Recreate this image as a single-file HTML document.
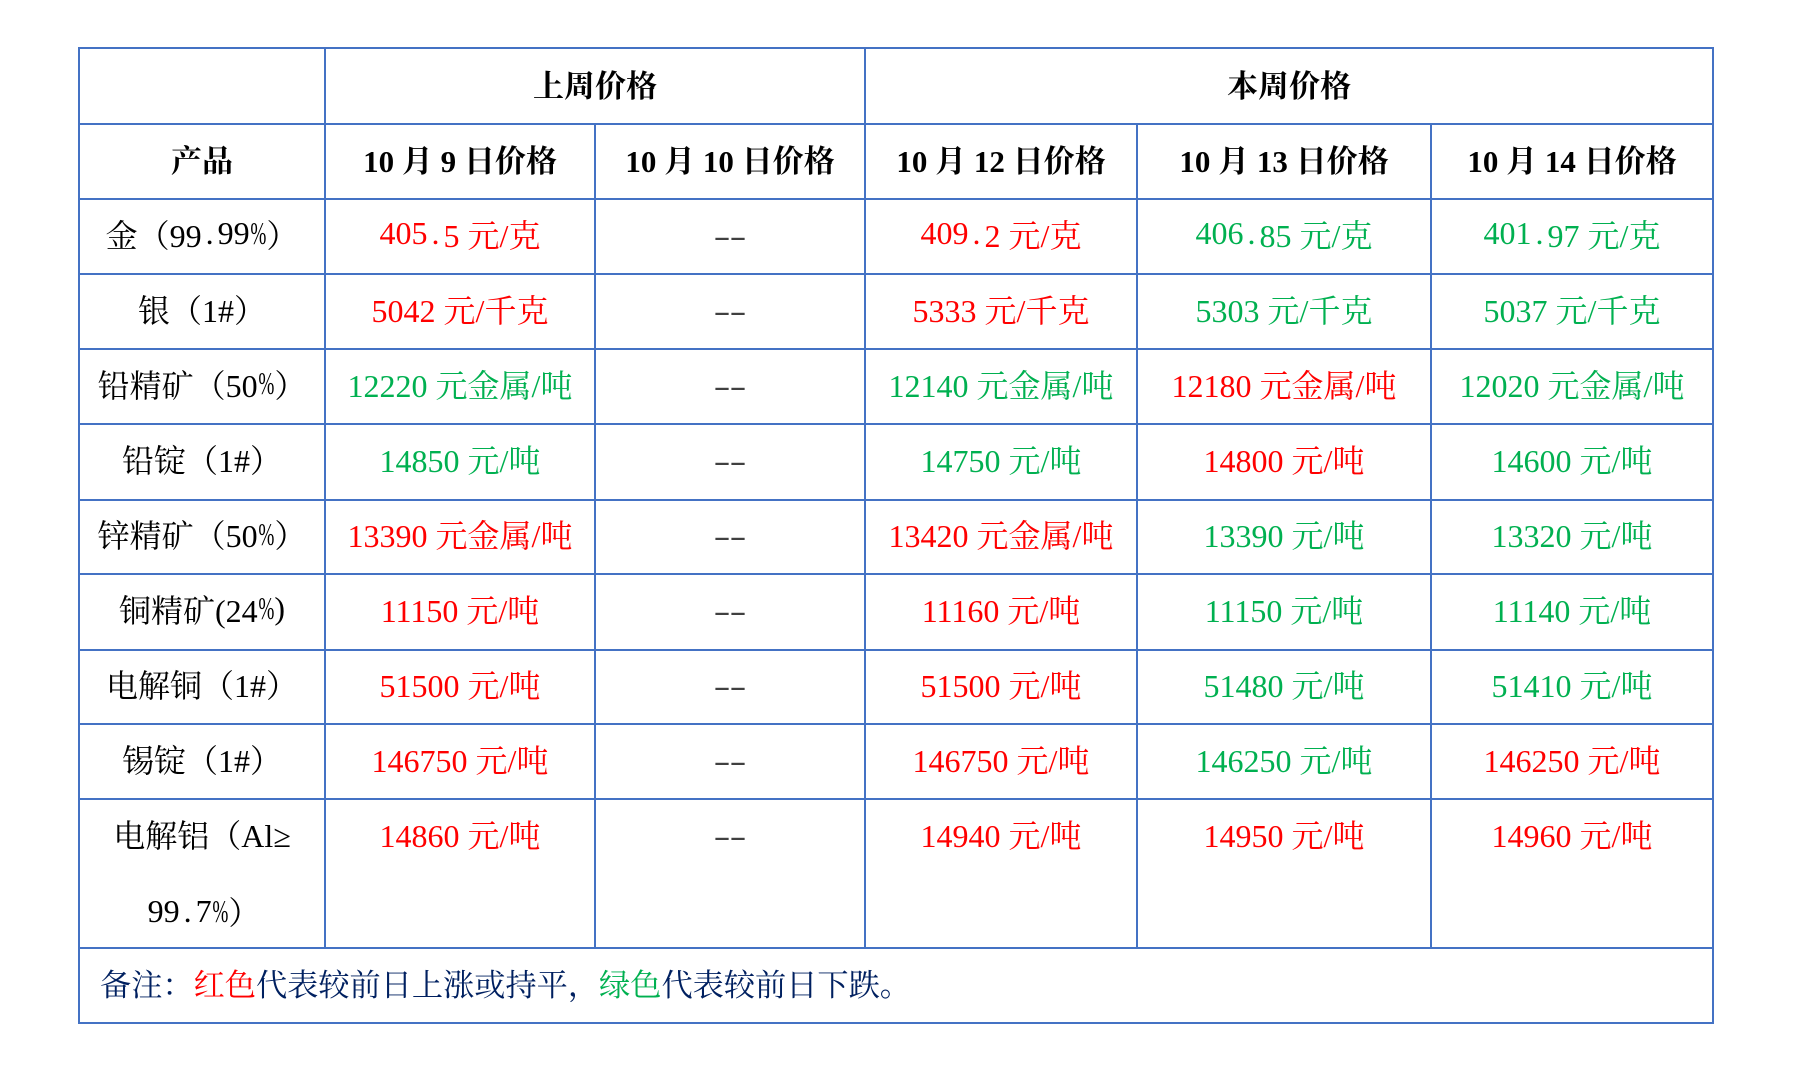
<!DOCTYPE html>
<html>
<head>
<meta charset="utf-8">
<style>
html,body{margin:0;padding:0;background:#fff;}
#wrap{position:relative;width:1802px;height:1078px;overflow:hidden;background:#fff;}
.h{position:absolute;height:2px;background:#4472C4;}
.v{position:absolute;width:2px;background:#4472C4;}
.c{position:absolute;box-sizing:border-box;padding-bottom:6px;display:flex;align-items:center;justify-content:center;white-space:nowrap;
  font-family:"Liberation Serif","Noto Serif CJK SC",serif;font-size:32px;color:#000;}
.b{font-weight:700;font-size:31px;}
.hb{font-weight:700;font-size:31px;}
.r{color:#FF0000;}
.g{color:#00B050;}
.d{color:#404040;font-size:30px;padding-bottom:0;}
.dd{display:inline-block;transform:scaleX(1.7);margin:0 3px;}
.p{display:inline-block;transform:scaleX(0.6);margin:0 -5px;}
.dt{display:inline-block;width:16px;text-align:center;}
.note{position:absolute;left:100px;top:966px;height:40px;line-height:40px;white-space:nowrap;
  font-family:"Liberation Serif","Noto Serif CJK SC",serif;font-size:31.2px;color:#002060;}
</style>
</head>
<body>
<div id="wrap">
<!-- horizontal lines -->
<div class="h" style="left:78px;width:1636px;top:47px"></div>
<div class="h" style="left:78px;width:1636px;top:123px"></div>
<div class="h" style="left:78px;width:1636px;top:198px"></div>
<div class="h" style="left:78px;width:1636px;top:273px"></div>
<div class="h" style="left:78px;width:1636px;top:348px"></div>
<div class="h" style="left:78px;width:1636px;top:423px"></div>
<div class="h" style="left:78px;width:1636px;top:499px"></div>
<div class="h" style="left:78px;width:1636px;top:573px"></div>
<div class="h" style="left:78px;width:1636px;top:649px"></div>
<div class="h" style="left:78px;width:1636px;top:723px"></div>
<div class="h" style="left:78px;width:1636px;top:798px"></div>
<div class="h" style="left:78px;width:1636px;top:947px"></div>
<div class="h" style="left:78px;width:1636px;top:1022px"></div>
<!-- vertical lines -->
<div class="v" style="left:78px;top:47px;height:977px"></div>
<div class="v" style="left:1712px;top:47px;height:977px"></div>
<div class="v" style="left:324px;top:47px;height:902px"></div>
<div class="v" style="left:594px;top:123px;height:826px"></div>
<div class="v" style="left:864px;top:47px;height:902px"></div>
<div class="v" style="left:1136px;top:123px;height:826px"></div>
<div class="v" style="left:1430px;top:123px;height:826px"></div>

<!-- header row 1 -->
<div class="c hb" style="left:325px;width:540px;top:49px;height:74px">上周价格</div>
<div class="c hb" style="left:865px;width:848px;top:49px;height:74px">本周价格</div>

<!-- header row 2 -->
<div class="c b" style="left:79px;width:246px;top:124px;height:75px">产品</div>
<div class="c b" style="left:325px;width:270px;top:124px;height:75px">10 月 9 日价格</div>
<div class="c b" style="left:595px;width:270px;top:124px;height:75px">10 月 10 日价格</div>
<div class="c b" style="left:865px;width:272px;top:124px;height:75px">10 月 12 日价格</div>
<div class="c b" style="left:1137px;width:294px;top:124px;height:75px">10 月 13 日价格</div>
<div class="c b" style="left:1431px;width:282px;top:124px;height:75px">10 月 14 日价格</div>

<!-- row 1 -->
<div class="c" style="left:79px;width:246px;top:199px;height:75px">金（99<span class="dt">.</span>99<span class="p">%</span>）</div>
<div class="c r" style="left:325px;width:270px;top:199px;height:75px">405<span class="dt">.</span>5 元/克</div>
<div class="c d" style="left:595px;width:270px;top:199px;height:75px"><span class="dd">-</span><span class="dd">-</span></div>
<div class="c r" style="left:865px;width:272px;top:199px;height:75px">409<span class="dt">.</span>2 元/克</div>
<div class="c g" style="left:1137px;width:294px;top:199px;height:75px">406<span class="dt">.</span>85 元/克</div>
<div class="c g" style="left:1431px;width:282px;top:199px;height:75px">401<span class="dt">.</span>97 元/克</div>

<!-- row 2 -->
<div class="c" style="left:79px;width:246px;top:274px;height:75px">银（1#）</div>
<div class="c r" style="left:325px;width:270px;top:274px;height:75px">5042 元/千克</div>
<div class="c d" style="left:595px;width:270px;top:274px;height:75px"><span class="dd">-</span><span class="dd">-</span></div>
<div class="c r" style="left:865px;width:272px;top:274px;height:75px">5333 元/千克</div>
<div class="c g" style="left:1137px;width:294px;top:274px;height:75px">5303 元/千克</div>
<div class="c g" style="left:1431px;width:282px;top:274px;height:75px">5037 元/千克</div>

<!-- row 3 -->
<div class="c" style="left:79px;width:246px;top:349px;height:75px">铅精矿（50<span class="p">%</span>）</div>
<div class="c g" style="left:325px;width:270px;top:349px;height:75px">12220 元金属/吨</div>
<div class="c d" style="left:595px;width:270px;top:349px;height:75px"><span class="dd">-</span><span class="dd">-</span></div>
<div class="c g" style="left:865px;width:272px;top:349px;height:75px">12140 元金属/吨</div>
<div class="c r" style="left:1137px;width:294px;top:349px;height:75px">12180 元金属/吨</div>
<div class="c g" style="left:1431px;width:282px;top:349px;height:75px">12020 元金属/吨</div>

<!-- row 4 -->
<div class="c" style="left:79px;width:246px;top:424px;height:75px">铅锭（1#）</div>
<div class="c g" style="left:325px;width:270px;top:424px;height:75px">14850 元/吨</div>
<div class="c d" style="left:595px;width:270px;top:424px;height:75px"><span class="dd">-</span><span class="dd">-</span></div>
<div class="c g" style="left:865px;width:272px;top:424px;height:75px">14750 元/吨</div>
<div class="c r" style="left:1137px;width:294px;top:424px;height:75px">14800 元/吨</div>
<div class="c g" style="left:1431px;width:282px;top:424px;height:75px">14600 元/吨</div>

<!-- row 5 -->
<div class="c" style="left:79px;width:246px;top:500px;height:74px">锌精矿（50<span class="p">%</span>）</div>
<div class="c r" style="left:325px;width:270px;top:500px;height:74px">13390 元金属/吨</div>
<div class="c d" style="left:595px;width:270px;top:500px;height:74px"><span class="dd">-</span><span class="dd">-</span></div>
<div class="c r" style="left:865px;width:272px;top:500px;height:74px">13420 元金属/吨</div>
<div class="c g" style="left:1137px;width:294px;top:500px;height:74px">13390 元/吨</div>
<div class="c g" style="left:1431px;width:282px;top:500px;height:74px">13320 元/吨</div>

<!-- row 6 -->
<div class="c" style="left:79px;width:246px;top:574px;height:75px">铜精矿(24<span class="p">%</span>)</div>
<div class="c r" style="left:325px;width:270px;top:574px;height:75px">11150 元/吨</div>
<div class="c d" style="left:595px;width:270px;top:574px;height:75px"><span class="dd">-</span><span class="dd">-</span></div>
<div class="c r" style="left:865px;width:272px;top:574px;height:75px">11160 元/吨</div>
<div class="c g" style="left:1137px;width:294px;top:574px;height:75px">11150 元/吨</div>
<div class="c g" style="left:1431px;width:282px;top:574px;height:75px">11140 元/吨</div>

<!-- row 7 -->
<div class="c" style="left:79px;width:246px;top:650px;height:74px">电解铜（1#）</div>
<div class="c r" style="left:325px;width:270px;top:650px;height:74px">51500 元/吨</div>
<div class="c d" style="left:595px;width:270px;top:650px;height:74px"><span class="dd">-</span><span class="dd">-</span></div>
<div class="c r" style="left:865px;width:272px;top:650px;height:74px">51500 元/吨</div>
<div class="c g" style="left:1137px;width:294px;top:650px;height:74px">51480 元/吨</div>
<div class="c g" style="left:1431px;width:282px;top:650px;height:74px">51410 元/吨</div>

<!-- row 8 -->
<div class="c" style="left:79px;width:246px;top:724px;height:75px">锡锭（1#）</div>
<div class="c r" style="left:325px;width:270px;top:724px;height:75px">146750 元/吨</div>
<div class="c d" style="left:595px;width:270px;top:724px;height:75px"><span class="dd">-</span><span class="dd">-</span></div>
<div class="c r" style="left:865px;width:272px;top:724px;height:75px">146750 元/吨</div>
<div class="c g" style="left:1137px;width:294px;top:724px;height:75px">146250 元/吨</div>
<div class="c r" style="left:1431px;width:282px;top:724px;height:75px">146250 元/吨</div>

<!-- row 9 (two lines) -->
<div class="c" style="left:79px;width:246px;top:800px;height:74px">电解铝（Al≥</div>
<div class="c" style="left:86px;width:236px;top:877px;height:74px">99<span class="dt">.</span>7<span class="p">%</span>）</div>
<div class="c r" style="left:325px;width:270px;top:800px;height:74px">14860 元/吨</div>
<div class="c d" style="left:595px;width:270px;top:800px;height:74px"><span class="dd">-</span><span class="dd">-</span></div>
<div class="c r" style="left:865px;width:272px;top:800px;height:74px">14940 元/吨</div>
<div class="c r" style="left:1137px;width:294px;top:800px;height:74px">14950 元/吨</div>
<div class="c r" style="left:1431px;width:282px;top:800px;height:74px">14960 元/吨</div>

<!-- footnote -->
<div class="note">备注：<span class="r">红色</span>代表较前日上涨或持平，<span class="g">绿色</span>代表较前日下跌。</div>
</div>
</body>
</html>
